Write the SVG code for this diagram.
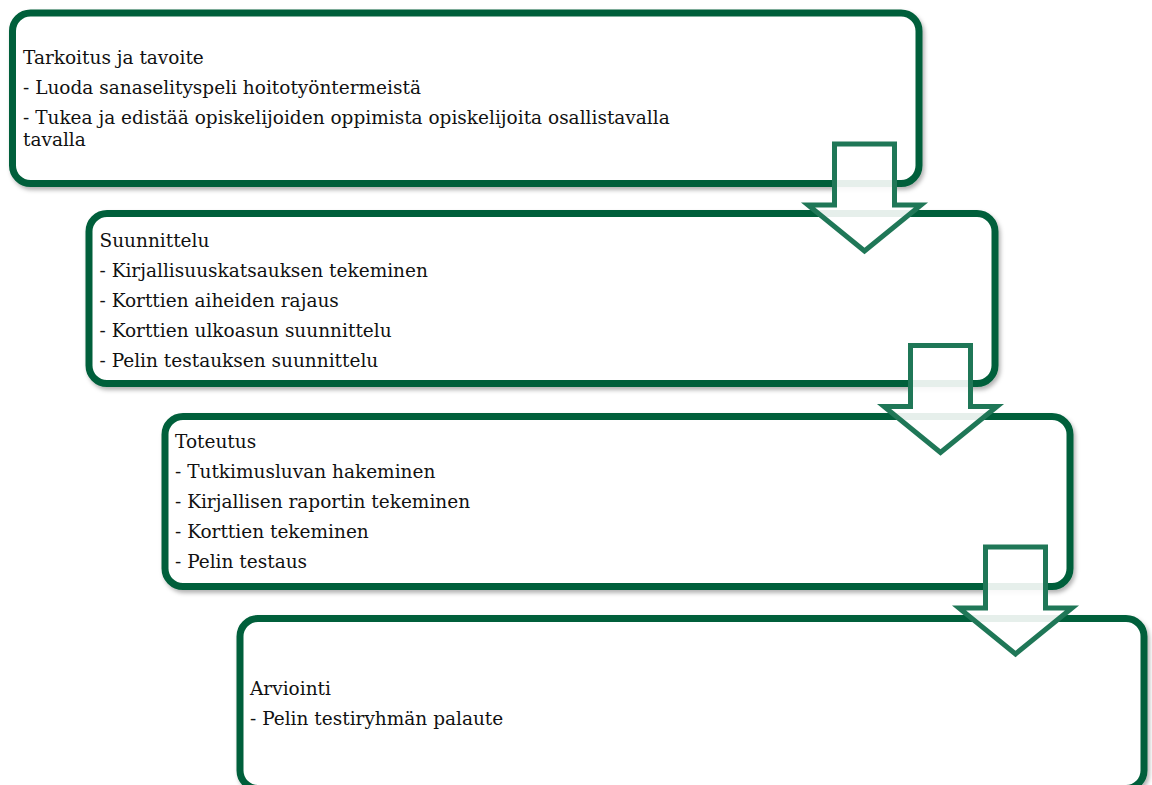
<svg xmlns="http://www.w3.org/2000/svg" width="1152" height="785" viewBox="0 0 1152 785">
  <style>
    .box { fill: #ffffff; stroke: #035f3b; stroke-width: 7; filter: url(#shadow); }
    .arrow { fill: #ffffff; fill-opacity: 0.9; stroke: #1f7757; stroke-width: 5; stroke-linejoin: miter; }
    .t { font-family: "DejaVu Serif", "Liberation Serif", serif; font-size: 18.5px; fill: #111111; }
  </style>
  <defs>
    <filter id="shadow" x="-5%" y="-10%" width="110%" height="125%">
      <feDropShadow dx="2" dy="3" stdDeviation="2" flood-color="#000000" flood-opacity="0.3"/>
    </filter>
  </defs>
  <rect width="1152" height="785" fill="#ffffff"/>

  <g id="node-tarkoitus">
    <rect class="box" x="12.5" y="13" width="906.5" height="170.5" rx="18"/>
    <text class="t" x="23" y="64">Tarkoitus ja tavoite</text>
    <text class="t" x="23" y="94">- Luoda sanaselityspeli hoitotyöntermeistä</text>
    <text class="t" x="23" y="123.5">- Tukea ja edistää opiskelijoiden oppimista opiskelijoita osallistavalla</text>
    <text class="t" x="23" y="145.5">tavalla</text>
  </g>

  <g id="node-suunnittelu">
    <rect class="box" x="89" y="213.5" width="906" height="170" rx="18"/>
    <text class="t" x="99.5" y="246.5">Suunnittelu</text>
    <text class="t" x="99.5" y="276.5">- Kirjallisuuskatsauksen tekeminen</text>
    <text class="t" x="99.5" y="306.5">- Korttien aiheiden rajaus</text>
    <text class="t" x="99.5" y="336.5">- Korttien ulkoasun suunnittelu</text>
    <text class="t" x="99.5" y="366.5">- Pelin testauksen suunnittelu</text>
  </g>

  <g id="node-toteutus">
    <rect class="box" x="165" y="416.5" width="905" height="170" rx="18"/>
    <text class="t" x="175" y="447.5">Toteutus</text>
    <text class="t" x="175" y="477.5">- Tutkimusluvan hakeminen</text>
    <text class="t" x="175" y="507.5">- Kirjallisen raportin tekeminen</text>
    <text class="t" x="175" y="537.5">- Korttien tekeminen</text>
    <text class="t" x="175" y="567.5">- Pelin testaus</text>
  </g>

  <g id="node-arviointi">
    <rect class="box" x="240" y="618.5" width="904" height="170" rx="18"/>
    <text class="t" x="250" y="695">Arviointi</text>
    <text class="t" x="250" y="725">- Pelin testiryhmän palaute</text>
  </g>

  <g id="connectors">
    <polygon class="arrow" points="834.5,144 894.5,144 894.5,205 921,205 864.5,251 808,205 834.5,205"/>
    <polygon class="arrow" points="910.5,345.5 970.5,345.5 970.5,406.5 997,406.5 940.5,452.5 884,406.5 910.5,406.5"/>
    <polygon class="arrow" points="985.5,547 1045.5,547 1045.5,608 1072,608 1015.5,654 959,608 985.5,608"/>
  </g>
</svg>
